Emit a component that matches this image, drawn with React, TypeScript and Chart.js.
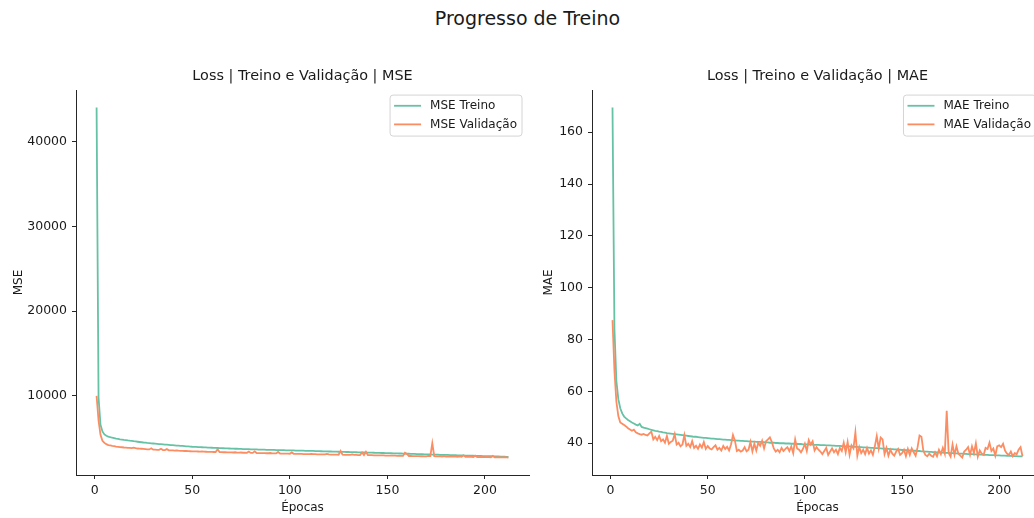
import React, { useEffect, useRef } from "react";
import { Chart, registerables } from "chart.js";

Chart.register(...registerables);

const FONT = '"DejaVu Sans", Verdana, sans-serif';
const GREEN = "#66c2a5";
const ORANGE = "#fc8d62";
const AX = "#262626";
const TXT = "#1a1a1a";

// ---- data ----
const mseTrain = [
  44000, 9800, 6600, 5800, 5450, 5300, 5200, 5120, 5060, 5010,
  4960, 4920, 4880, 4850, 4810, 4780, 4740, 4710, 4690, 4650,
  4620, 4590, 4560, 4530, 4500, 4480, 4450, 4430, 4400, 4380,
  4360, 4340, 4320, 4300, 4280, 4260, 4240, 4220, 4200, 4180,
  4160, 4140, 4130, 4110, 4090, 4070, 4050, 4040, 4020, 4000,
  3990, 3980, 3960, 3950, 3940, 3930, 3920, 3900, 3890, 3880,
  3870, 3860, 3850, 3840, 3830, 3820, 3810, 3800, 3790, 3780,
  3770, 3760, 3760, 3750, 3740, 3730, 3720, 3720, 3710, 3700,
  3690, 3690, 3680, 3670, 3660, 3660, 3650, 3640, 3640, 3630,
  3620, 3620, 3610, 3600, 3600, 3590, 3590, 3580, 3570, 3570,
  3560, 3560, 3550, 3540, 3540, 3530, 3530, 3520, 3510, 3510,
  3500, 3500, 3490, 3480, 3480, 3470, 3460, 3460, 3450, 3440,
  3440, 3430, 3420, 3420, 3410, 3400, 3400, 3390, 3380, 3380,
  3370, 3360, 3360, 3350, 3340, 3340, 3330, 3320, 3320, 3310,
  3300, 3300, 3290, 3280, 3280, 3270, 3260, 3260, 3250, 3240,
  3240, 3230, 3220, 3220, 3210, 3200, 3200, 3190, 3180, 3170,
  3170, 3160, 3150, 3150, 3140, 3130, 3120, 3120, 3110, 3100,
  3100, 3090, 3080, 3080, 3070, 3060, 3050, 3050, 3040, 3030,
  3030, 3020, 3010, 3000, 3000, 2990, 2980, 2980, 2970, 2960,
  2960, 2950, 2940, 2940, 2930, 2920, 2920, 2910, 2900, 2900,
  2890, 2880, 2880, 2870, 2860, 2860, 2850, 2840, 2830, 2820,
  2810, 2800,
];

const mseVal = [
  10000, 7100, 5400, 4700, 4450, 4300, 4200, 4150, 4100, 4080,
  4020, 3990, 3960, 3940, 3910, 3890, 3870, 3860, 3830, 3900,
  3840, 3790, 3770, 3760, 3740, 3720, 3700, 3680, 3820, 3660,
  3650, 3640, 3630, 3760, 3610, 3600, 3720, 3580, 3570, 3560,
  3550, 3560, 3530, 3520, 3510, 3500, 3520, 3480, 3470, 3460,
  3460, 3450, 3440, 3430, 3440, 3420, 3410, 3400, 3400, 3390,
  3380, 3380, 3700, 3370, 3360, 3350, 3350, 3340, 3340, 3330,
  3320, 3350, 3310, 3300, 3320, 3290, 3290, 3280, 3430, 3270,
  3270, 3460, 3260, 3250, 3250, 3240, 3240, 3230, 3230, 3260,
  3220, 3210, 3210, 3380, 3200, 3190, 3190, 3180, 3180, 3170,
  3330, 3170, 3160, 3160, 3150, 3150, 3140, 3140, 3130, 3130,
  3160, 3120, 3120, 3110, 3110, 3100, 3100, 3090, 3150, 3090,
  3080, 3080, 3070, 3070, 3060, 3500, 3060, 3050, 3050, 3040,
  3040, 3100, 3030, 3030, 3020, 3020, 3330, 3010, 3400, 3010,
  3000, 3000, 2990, 2990, 2980, 2980, 2970, 2970, 2960, 2960,
  2950, 2950, 2940, 2940, 2930, 2930, 2920, 2920, 3300, 3150,
  2910, 2910, 2900, 2900, 2890, 2890, 2880, 2880, 2870, 2870,
  2920, 2900, 4400, 2880, 2870, 2860, 2900, 2850, 2880, 2840,
  2850, 2840, 2830, 2870, 2830, 2820, 2860, 2810, 2990, 2810,
  2800, 2830, 2800, 2790, 2950, 2790, 2780, 2820, 2780, 2770,
  2790, 2770, 2760, 2930, 2760, 2750, 2780, 2750, 2740, 2760,
  2740, 2730,
];

const maeTrain = [
  169.5, 84, 64, 57, 53.5, 51.5, 50.3, 49.6, 49.0, 48.5,
  48.0, 47.6, 47.2, 46.9, 47.5, 46.3, 46.0, 45.8, 45.6, 45.4,
  45.2, 45.0, 44.8, 44.7, 44.5, 44.4, 44.2, 44.1, 43.9, 43.8,
  43.7, 43.6, 43.5, 43.4, 43.3, 43.2, 43.1, 43.0, 42.9, 42.8,
  42.7, 42.6, 42.5, 42.5, 42.4, 42.3, 42.2, 42.1, 42.1, 42.0,
  41.9, 41.8, 41.8, 41.7, 41.6, 41.6, 41.5, 41.4, 41.4, 41.3,
  41.3, 41.2, 41.1, 41.1, 41.0, 41.0, 40.9, 40.9, 40.8, 40.8,
  40.7, 40.7, 40.6, 40.6, 40.5, 40.5, 40.5, 40.4, 40.4, 40.3,
  40.3, 40.2, 40.2, 40.2, 40.1, 40.1, 40.0, 40.0, 40.0, 39.9,
  39.9, 39.9, 39.8, 39.8, 39.8, 39.7, 39.7, 39.7, 39.6, 39.6,
  39.6, 39.5, 39.5, 39.5, 39.4, 39.4, 39.4, 39.3, 39.3, 39.3,
  39.2, 39.2, 39.2, 39.1, 39.1, 39.0, 39.0, 39.0, 38.9, 38.9,
  38.8, 38.8, 38.8, 38.7, 38.7, 38.6, 38.6, 38.5, 38.5, 38.4,
  38.4, 38.3, 38.3, 38.2, 38.2, 38.1, 38.1, 38.0, 38.0, 37.9,
  37.9, 37.8, 37.8, 37.7, 37.7, 37.6, 37.6, 37.5, 37.5, 37.4,
  37.4, 37.3, 37.3, 37.2, 37.2, 37.1, 37.1, 37.0, 37.0, 36.9,
  36.9, 36.8, 36.8, 36.7, 36.7, 36.6, 36.6, 36.5, 36.5, 36.4,
  36.4, 36.3, 36.3, 36.3, 36.2, 36.2, 36.1, 36.1, 36.0, 36.0,
  36.0, 35.9, 35.9, 35.8, 35.8, 35.8, 35.7, 35.7, 35.6, 35.6,
  35.6, 35.5, 35.5, 35.5, 35.4, 35.4, 35.4, 35.3, 35.3, 35.3,
  35.2, 35.2, 35.2, 35.1, 35.1, 35.1, 35.0, 35.0, 35.0, 34.9,
  34.9, 34.9,
];

const maeVal = [
  87.5, 68, 56, 50.5, 48, 47.5, 47.0, 46.5, 45.8, 45.3,
  44.8, 45.2, 44.2, 43.8, 43.5, 43.3, 43.6, 43.2, 43.0, 43.8,
  44.5, 41.5, 42.5, 41.2, 42.8, 40.8, 41.5, 40.2, 42.8, 39.8,
  40.5, 41.0, 43.5, 39.5, 40.2, 38.8, 39.5, 43.2, 39.0, 39.8,
  38.5, 40.8, 38.2, 39.0, 37.8, 39.5, 38.3, 40.5, 37.8, 38.9,
  38.0, 37.6, 38.5, 39.2, 37.5, 38.2, 37.2, 39.0, 37.8, 38.6,
  37.2, 39.5, 43.2, 41.0, 37.0, 37.5, 36.8, 37.2, 38.5, 36.9,
  37.5, 40.5, 36.8, 39.8, 37.2, 40.2, 39.0, 41.0, 38.0, 40.8,
  41.5, 42.3, 40.5, 38.0, 36.8, 37.5, 36.5, 38.2, 37.0, 37.8,
  38.5, 37.0, 38.8, 36.2, 41.5, 38.0, 37.5, 36.5, 37.8, 39.8,
  37.0, 41.2, 39.5, 40.8, 37.2, 38.5, 37.5, 36.8, 35.8, 37.0,
  38.2, 35.5, 36.8, 38.0, 36.5, 37.5, 35.8, 38.2, 37.0, 40.2,
  36.5, 40.5, 35.5, 39.2, 38.0, 44.2, 35.2, 38.5, 36.2, 37.5,
  35.8, 38.2, 36.0, 37.2, 35.5, 38.8, 42.8, 38.0, 42.2, 41.5,
  35.8, 38.2, 35.2, 37.5, 36.0, 35.2, 36.8, 37.8, 35.5, 36.2,
  37.5, 35.0, 37.8, 35.5, 38.0, 36.5, 35.2, 38.5, 43.0, 42.5,
  37.0, 35.5, 35.0, 36.0, 35.2, 34.8, 36.5, 35.0, 37.5, 35.8,
  38.2, 36.0, 52.5, 36.2, 34.8, 39.5, 35.5, 38.8, 36.0, 35.2,
  34.5, 36.8, 37.5, 38.5, 35.5, 38.8, 36.2, 40.0, 34.8, 37.2,
  36.0, 35.5, 38.2, 37.8, 40.2, 37.0, 38.0, 35.2, 38.8, 39.2,
  38.5, 39.8, 37.2, 36.0, 35.5, 36.8, 35.0, 36.2, 35.8, 37.5,
  38.5, 35.0,
];

const xTicks = [0, 50, 100, 150, 200];
const mseTicks = [10000, 20000, 30000, 40000];
const maeTicks = [40, 60, 80, 100, 120, 140, 160];

const epochs = mseTrain.map((_, i) => i + 1);

const legendPlugin = {
  id: "mplLegend",
  afterDraw(chart: any, _args: any, opts: any) {
    const items = opts && opts.items;
    if (!items) return;
    const ctx = chart.ctx;
    const a = chart.chartArea;
    ctx.save();
    ctx.font = `12px ${FONT}`;
    const tw = Math.max(...items.map((it: any) => ctx.measureText(it.label).width));
    const padL = 4, handle = 27, gap = 9, padR = 5;
    const rowH = 18.6;
    const w = padL + handle + gap + tw + padR;
    const h = 10.7 + rowH * (items.length - 1) + 11.7;
    const right = a.right - 7;
    const left = right - w;
    const top = a.top + 5;
    const r = 3;
    ctx.beginPath();
    ctx.moveTo(left + r, top);
    ctx.lineTo(left + w - r, top);
    ctx.arcTo(left + w, top, left + w, top + r, r);
    ctx.lineTo(left + w, top + h - r);
    ctx.arcTo(left + w, top + h, left + w - r, top + h, r);
    ctx.lineTo(left + r, top + h);
    ctx.arcTo(left, top + h, left, top + h - r, r);
    ctx.lineTo(left, top + r);
    ctx.arcTo(left, top, left + r, top, r);
    ctx.closePath();
    ctx.fillStyle = "rgba(255,255,255,0.85)";
    ctx.fill();
    ctx.strokeStyle = "#d4d4d4";
    ctx.lineWidth = 1;
    ctx.stroke();
    items.forEach((it: any, i: number) => {
      const cy = top + 10.7 + i * rowH;
      ctx.beginPath();
      ctx.moveTo(left + padL, cy);
      ctx.lineTo(left + padL + handle, cy);
      ctx.strokeStyle = it.color;
      ctx.lineWidth = 1.8;
      ctx.stroke();
      ctx.fillStyle = TXT;
      ctx.textBaseline = "middle";
      ctx.textAlign = "left";
      ctx.fillText(it.label, left + padL + handle + gap, cy);
    });
    ctx.restore();
  },
};

function buildConfig(p: any) {
  const all = [...p.train, ...p.val];
  const lo = Math.min(...all);
  const hi = Math.max(...all);
  const pad = (hi - lo) * 0.05;
  const xlo = epochs[0];
  const xhi = epochs[epochs.length - 1];
  const xpad = (xhi - xlo) * 0.05;
  const tickFont = { family: FONT, size: 12.5 };
  const labelFont = { family: FONT, size: 12 };
  return {
    type: "line",
    data: {
      datasets: [
        {
          label: p.trainLabel,
          data: epochs.map((e, i) => ({ x: e, y: p.train[i] })),
          borderColor: GREEN,
          backgroundColor: GREEN,
          borderWidth: 1.8,
          pointRadius: 0,
          tension: 0,
          fill: false,
          order: 2,
        },
        {
          label: p.valLabel,
          data: epochs.map((e, i) => ({ x: e, y: p.val[i] })),
          borderColor: ORANGE,
          backgroundColor: ORANGE,
          borderWidth: 1.8,
          pointRadius: 0,
          tension: 0,
          fill: false,
          order: 1,
        },
      ],
    },
    options: {
      responsive: false,
      animation: false,
      events: [],
      layout: { padding: { left: 0, right: p.padRight, top: 0, bottom: 0 } },
      plugins: {
        legend: { display: false },
        tooltip: { enabled: false },
        title: {
          display: true,
          text: p.title,
          fullSize: false,
          color: TXT,
          font: { family: FONT, size: 14.4, weight: "normal" },
          padding: { top: 67.8, bottom: 5.0 },
        },
        mplLegend: {
          items: [
            { label: p.trainLabel, color: GREEN },
            { label: p.valLabel, color: ORANGE },
          ],
        },
      },
      scales: {
        x: {
          type: "linear",
          min: xlo - xpad,
          max: xhi + xpad,
          afterBuildTicks: (ax: any) => {
            ax.ticks = xTicks.map((v) => ({ value: v }));
          },
          afterFit: (s: any) => {
            s.height = 43;
          },
          ticks: {
            autoSkip: false,
            maxRotation: 0,
            padding: 4,
            color: TXT,
            font: tickFont,
            callback: (v: any) => String(v),
          },
          grid: { display: true, drawOnChartArea: false, drawTicks: true, tickLength: 4, color: AX },
          border: { display: true, color: AX, width: 1 },
          title: {
            display: true,
            text: "Épocas",
            color: TXT,
            font: labelFont,
            padding: { top: 0, bottom: 2.8 },
          },
        },
        y: {
          type: "linear",
          min: lo - pad,
          max: hi + pad,
          afterBuildTicks: (ax: any) => {
            ax.ticks = p.yTicks.map((v: number) => ({ value: v }));
          },
          afterFit: (s: any) => {
            s.width = 76;
          },
          ticks: {
            autoSkip: false,
            padding: 5,
            color: TXT,
            font: tickFont,
            callback: (v: any) => String(v),
          },
          grid: { display: true, drawOnChartArea: false, drawTicks: true, tickLength: 4, color: AX },
          border: { display: true, color: AX, width: 1 },
          title: {
            display: true,
            text: p.yLabel,
            color: TXT,
            font: labelFont,
            padding: { top: p.yTitlePad, bottom: 0 },
          },
        },
      },
    },
    plugins: [legendPlugin],
  };
}

function ChartCanvas(props: { cfg: any; left: number; width: number; height: number }) {
  const ref = useRef<HTMLCanvasElement | null>(null);
  useEffect(() => {
    const chart = new Chart(ref.current as HTMLCanvasElement, props.cfg);
    return () => chart.destroy();
  }, []);
  return (
    <canvas
      ref={ref}
      width={props.width}
      height={props.height}
      style={{
        position: "absolute",
        left: props.left,
        top: 0,
        width: props.width,
        height: props.height,
      }}
    />
  );
}

const leftCfg = buildConfig({
  train: mseTrain,
  val: mseVal,
  trainLabel: "MSE Treino",
  valLabel: "MSE Validação",
  title: "Loss | Treino e Validação | MSE",
  yLabel: "MSE",
  yTicks: mseTicks,
  padRight: 11,
  yTitlePad: 11.3,
});

const rightCfg = buildConfig({
  train: maeTrain,
  val: maeVal,
  trainLabel: "MAE Treino",
  valLabel: "MAE Validação",
  title: "Loss | Treino e Validação | MAE",
  yLabel: "MAE",
  yTicks: maeTicks,
  padRight: 33,
  yTitlePad: 25.8,
});

export default function App() {
  return (
    <div
      style={{
        position: "fixed",
        left: 0,
        top: 0,
        width: 1034,
        height: 518,
        overflow: "hidden",
        background: "#ffffff",
      }}
    >
      <div
        style={{
          position: "absolute",
          left: 0,
          top: 6,
          width: 1055,
          textAlign: "center",
          fontFamily: FONT,
          fontSize: 19,
          lineHeight: "24px",
          color: TXT,
        }}
      >
        Progresso de Treino
      </div>
      <ChartCanvas cfg={leftCfg} left={0} width={540} height={518} />
      <ChartCanvas cfg={rightCfg} left={516} width={560} height={518} />
    </div>
  );
}
